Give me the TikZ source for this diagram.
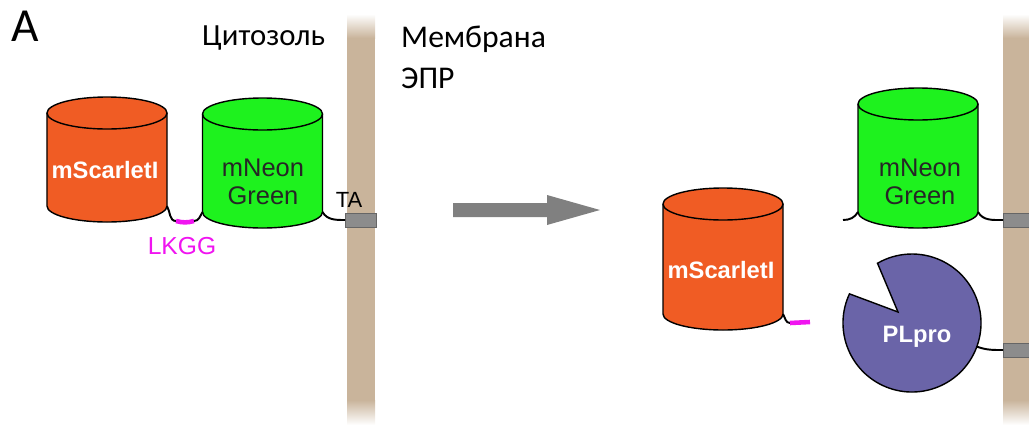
\documentclass[tikz,border=0pt]{standalone}
\usepackage{fontspec}
\setmainfont{Carlito}
\newfontfamily\labelfont{Liberation Sans}
\definecolor{membrane}{RGB}{201,180,155}
\definecolor{scarlet}{RGB}{240,92,36}
\definecolor{neon}{RGB}{30,242,30}
\definecolor{plpro}{RGB}{106,100,168}
\definecolor{lkgg}{RGB}{240,20,240}
\definecolor{anchorfill}{RGB}{140,140,140}
\tikzset{x=0.2mm, y=0.2mm, % one unit is one pixel of the layout
      body/.style={ % side wall of a barrel, from top rim to bottom rim
      rectangle, inner sep=0pt, outer sep=0pt, minimum width=24mm},
      rim/.style={x radius=12mm, y radius=3.2mm},
      barrelline/.style={draw=black, line width=0.8pt},
      head/.style={font=\fontsize{17.5}{21}\selectfont},
      protlabel/.style={font=\labelfont\bfseries\fontsize{13.5}{16}\selectfont, text=white},
      neontext/.style={font=\labelfont\fontsize{14.5}{16}\selectfont, align=center, text=black!85},
      tabox/.style={ % tail anchor in the membrane
      rectangle, draw=black!60, line width=0.5pt, fill=anchorfill,
      minimum width=6.2mm, minimum height=2.8mm, inner sep=0pt, outer sep=0pt},
      link/.style={draw=black, line width=1.1pt},
      linker/.style={draw=lkgg, line width=2.6pt}}
% barrel drawn round a body node: #1 node name, #2 fill colour
\newcommand\barrel[2]{%
      \fill[#2] (#1.north west) -- (#1.south west) arc[start angle=180, end angle=360, rim]
            -- (#1.north east) arc[start angle=0, end angle=180, rim] -- cycle;
      \draw[barrelline] (#1.north west) -- (#1.south west)
            arc[start angle=180, end angle=360, rim] -- (#1.north east);
      \draw[barrelline] (#1.north) ellipse[rim];}

\begin{document}
\begin{tikzpicture}
      \useasboundingbox (0,0) rectangle (1029,430);
      % membranes, fading out at both ends
      \fill[membrane] (347,30) rectangle (375,392);
      \shade[top color=white, bottom color=membrane] (347,392) rectangle (375,416);
      \shade[top color=membrane, bottom color=white] (347,5) rectangle (375,30);
      \fill[membrane] (1003,30) rectangle (1029,392);
      \shade[top color=white, bottom color=membrane] (1003,392) rectangle (1029,416);
      \shade[top color=membrane, bottom color=white] (1003,5) rectangle (1029,30);

      \node[head, font=\fontsize{27}{30}\selectfont] (panel) at (25,404) {A};
      \node[head, anchor=base west] (cyto) at (196,385) {Цитозоль};
      \node[head, font=\fontsize{18}{21}\selectfont, anchor=base west] (mem) at (395,383) {Мембрана};
      \node[head, font=\fontsize{18}{21}\selectfont, anchor=base west] (er) at (395,342) {ЭПР};

      % before cleavage
      \node[body, minimum height=18.6mm] (sl) at (107,270.5) {};
      \barrel{sl}{scarlet}
      \node[body, minimum height=19.6mm] (gl) at (262.5,267) {};
      \barrel{gl}{neon}
      \node[protlabel] (sltext) at (105,260) {mScarletI};
      \node[neontext] (gltext) at (263,248) {mNeon\\Green};
      \node[tabox] (ta1) at (360.5,210) {};
      \node[font=\labelfont\fontsize{12.5}{14}\selectfont] (ta) at (349,230) {TA};
      \node[font=\labelfont\fontsize{14}{16}\selectfont, text=lkgg] (lk) at (182,184) {LKGG};
      \coordinate (k1) at (176,209);
      \coordinate (k2) at (194,209);
      \draw[link] (sl.south east) to[out=-60, in=180] (k1);
      \draw[linker] (k1) to[bend right=15] (k2);
      \draw[link] (k2) to[out=0, in=-120] (gl.south west);
      \draw[link] (gl.south east) to[out=-60, in=180] (ta1.west);

      % process arrow
      \fill[black!50] (453,213) -- (547,213) -- (547,205) -- (600,220)
            -- (547,235) -- (547,227) -- (453,227) -- cycle;

      % after cleavage
      \node[body, minimum height=22mm] (sr) at (723,171) {};
      \barrel{sr}{scarlet}
      \node[protlabel] (srtext) at (721,160) {mScarletI};
      \coordinate (k3) at (790,107);
      \coordinate (k4) at (810,108);
      \draw[link] (sr.south east) to[out=-60, in=180] (k3);
      \draw[linker] (k3) -- (k4);

      \node[body, minimum height=21.6mm] (gr) at (918,272) {};
      \barrel{gr}{neon}
      \node[neontext] (grtext) at (920,248) {mNeon\\Green};
      \node[tabox] (ta2) at (1018.5,210) {};
      \coordinate (k5) at (843,210);
      \draw[link] (gr.south west) to[out=-120, in=0] (k5);
      \draw[link] (gr.south east) to[out=-60, in=180] (ta2.west);

      \node[circle, minimum size=27.6mm, inner sep=0pt, outer sep=0pt] (pl) at (912,107) {};
      \filldraw[fill=plpro, draw=black, line width=0.8pt] (pl.155)
            arc[start angle=155, end angle=480, radius=13.8mm] -- (898,118) -- cycle;
      \node[protlabel] (pltext) at (917,93) {PLpro};
      \node[tabox] (ta3) at (1018.5,80) {};
      \draw[link] (pl.-20) to[out=-20, in=180] (ta3.west);
    \end{tikzpicture}
\end{document}
